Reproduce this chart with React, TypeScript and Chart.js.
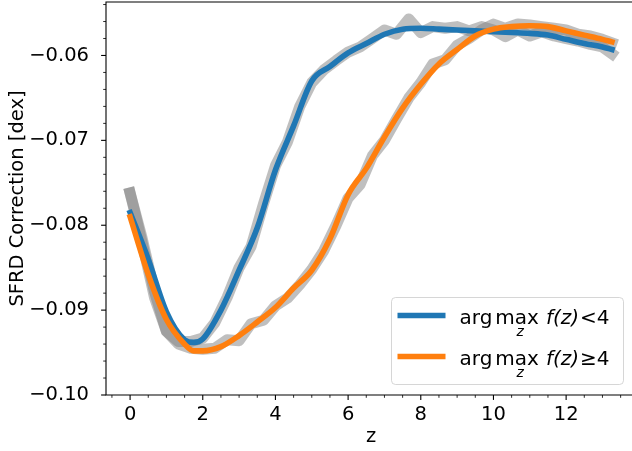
import { useEffect, useRef } from "react";
import { Chart, registerables } from "chart.js";

Chart.register(...registerables);

// Smoothed curves
const zSmooth = [0, 0.5, 1, 1.5, 1.75, 2, 2.5, 3, 3.5, 4, 4.5, 5, 5.5, 6, 6.5, 7, 7.5, 8, 8.5, 9, 9.5, 10, 10.5, 11, 11.5, 12, 12.5, 13, 13.26];
const blueSmooth = [-0.0785, -0.084, -0.0902, -0.0935, -0.0938, -0.0934, -0.09, -0.0853, -0.0803, -0.0735, -0.0683, -0.063, -0.0613, -0.0597, -0.0586, -0.0575, -0.0569, -0.0568, -0.0569, -0.057, -0.0571, -0.0572, -0.0573, -0.0574, -0.0576, -0.0581, -0.0586, -0.059, -0.0593];
const orangeSmooth = [-0.079, -0.0858, -0.0911, -0.094, -0.0948, -0.0948, -0.0943, -0.093, -0.0914, -0.0897, -0.0874, -0.0853, -0.0816, -0.0764, -0.0733, -0.0696, -0.0662, -0.0634, -0.061, -0.0593, -0.0577, -0.0569, -0.0566, -0.0565, -0.0566, -0.0571, -0.0576, -0.0581, -0.0584];

// Raw (noisy) curves drawn as thick grey lines
const zRaw = [0, 0.33, 0.67, 1, 1.33, 1.67, 2, 2.33, 2.67, 3, 3.33, 3.67, 4, 4.33, 4.67, 5, 5.33, 5.67, 6, 6.33, 6.67, 7, 7.33, 7.67, 8, 8.33, 8.67, 9, 9.33, 9.67, 10, 10.33, 10.67, 11, 11.33, 11.67, 12, 12.33, 12.67, 13, 13.26];
const blueRaw = [-0.0762, -0.0815, -0.0878, -0.0925, -0.0937, -0.0937, -0.0933, -0.0915, -0.0885, -0.085, -0.0825, -0.0775, -0.073, -0.0702, -0.066, -0.0632, -0.0617, -0.0606, -0.0596, -0.059, -0.058, -0.057, -0.0575, -0.0557, -0.0573, -0.0566, -0.0568, -0.0566, -0.0571, -0.0566, -0.057, -0.0578, -0.057, -0.0577, -0.0572, -0.0577, -0.058, -0.0583, -0.0587, -0.059, -0.0598];
const orangeRaw = [-0.0762, -0.082, -0.0885, -0.0925, -0.094, -0.0945, -0.0946, -0.0945, -0.0935, -0.0936, -0.0916, -0.0912, -0.0895, -0.0886, -0.087, -0.0852, -0.083, -0.08, -0.0768, -0.0752, -0.0718, -0.07, -0.0675, -0.065, -0.0632, -0.061, -0.0605, -0.0588, -0.058, -0.057, -0.0563, -0.0568, -0.0563, -0.0564, -0.0566, -0.0568, -0.057, -0.0575, -0.0577, -0.0581, -0.0585];

const xTickValues = [0, 2, 4, 6, 8, 10, 12];
const yTickValues = [-0.1, -0.09, -0.08, -0.07, -0.06];
const legendSuffixes = ["<4", "\u22654"];

const BLUE = "#1f77b4";
const ORANGE = "#ff7f0e";
const GREY = "rgba(128,128,128,0.5)";
const FAMILY = "'DejaVu Sans'";
const FS = 19.5;
const LFS = 20;

const fmtY = (v: number) => (v < 0 ? "\u2212" : "") + Math.abs(v).toFixed(2);

const mplPlugin = {
  id: "mplAxes",
  afterDraw(chart: any) {
    const { ctx, chartArea: a, scales } = chart;
    const xs = scales.x;
    const ys = scales.y;
    ctx.save();
    ctx.strokeStyle = "#000";
    ctx.lineCap = "butt";
    // x ticks
    for (let k = Math.ceil(xs.min * 2); k <= Math.floor(xs.max * 2); k++) {
      const v = k / 2;
      const major = xTickValues.includes(v);
      const px = xs.getPixelForValue(v);
      ctx.lineWidth = major ? 1.1 : 0.83;
      ctx.beginPath();
      ctx.moveTo(px, a.bottom);
      ctx.lineTo(px, a.bottom + (major ? 4.9 : 2.8));
      ctx.stroke();
    }
    // y ticks
    for (let k = Math.ceil(ys.min * 500 - 1e-6); k <= Math.floor(ys.max * 500 + 1e-6); k++) {
      const v = k / 500;
      const major = Math.abs(k % 5) === 0;
      const py = ys.getPixelForValue(v);
      ctx.lineWidth = major ? 1.1 : 0.83;
      ctx.beginPath();
      ctx.moveTo(a.left, py);
      ctx.lineTo(a.left - (major ? 4.9 : 2.8), py);
      ctx.stroke();
    }
    // spines
    ctx.lineWidth = 1.1;
    ctx.beginPath();
    ctx.rect(a.left, a.top, a.right - a.left, a.bottom - a.top);
    ctx.stroke();

    // legend
    const bx = a.right - 12.5;
    const by = a.bottom - 10.5;
    const bw = 232;
    const bh = 87;
    ctx.beginPath();
    ctx.roundRect(bx - bw, by - bh, bw, bh, 4);
    ctx.fillStyle = "rgba(255,255,255,0.8)";
    ctx.fill();
    ctx.lineWidth = 1;
    ctx.strokeStyle = "rgba(204,204,204,0.8)";
    ctx.stroke();

    const colors = [BLUE, ORANGE];
    const left = bx - bw;
    legendSuffixes.forEach((suf, i) => {
      const cy = by - bh + 18 + i * 41;
      ctx.strokeStyle = colors[i];
      ctx.lineWidth = 5.6;
      ctx.beginPath();
      ctx.moveTo(left + 6, cy);
      ctx.lineTo(left + 54, cy);
      ctx.stroke();

      const base = cy + 8;
      let tx = left + 68;
      ctx.fillStyle = "#000";
      ctx.textBaseline = "alphabetic";
      ctx.textAlign = "left";
      ctx.font = `${LFS}px ${FAMILY}`;
      ctx.fillText("arg", tx, base);
      tx += ctx.measureText("arg").width + 3;
      const wMax = ctx.measureText("max").width;
      ctx.fillText("max", tx, base);
      ctx.font = `italic ${LFS * 0.7}px ${FAMILY}`;
      ctx.textAlign = "center";
      ctx.fillText("z", tx + wMax / 2 + 3, base + 12.5);
      ctx.textAlign = "left";
      tx += wMax + 7;
      ctx.font = `italic ${LFS}px ${FAMILY}`;
      ctx.fillText("f(z)", tx, base);
      tx += ctx.measureText("f(z)").width + 1;
      ctx.font = `${LFS}px ${FAMILY}`;
      ctx.fillText(suf, tx, base);
    });
    ctx.restore();
  },
};

export default function App() {
  const ref = useRef<HTMLCanvasElement>(null);
  useEffect(() => {
    const canvas = ref.current!;
    const pts = (xs: number[], ys: number[]) => xs.map((x, i) => ({ x, y: ys[i] }));
    const chart = new Chart(canvas, {
      type: "line",
      data: {
        datasets: [
          {
            label: "orange",
            data: pts(zSmooth, orangeSmooth),
            borderColor: ORANGE,
            borderWidth: 5.6,
            pointRadius: 0,
            cubicInterpolationMode: "monotone",
            borderCapStyle: "square",
            borderJoinStyle: "round",
            fill: false,
            order: 0,
          },
          {
            label: "blue",
            data: pts(zSmooth, blueSmooth),
            borderColor: BLUE,
            borderWidth: 5.6,
            pointRadius: 0,
            cubicInterpolationMode: "monotone",
            borderCapStyle: "square",
            borderJoinStyle: "round",
            fill: false,
            order: 1,
          },
          {
            label: "orange raw",
            data: pts(zRaw, orangeRaw),
            borderColor: GREY,
            borderWidth: 11,
            pointRadius: 0,
            tension: 0,
            borderCapStyle: "square",
            borderJoinStyle: "round",
            fill: false,
            order: 2,
          },
          {
            label: "blue raw",
            data: pts(zRaw, blueRaw),
            borderColor: GREY,
            borderWidth: 11,
            pointRadius: 0,
            tension: 0,
            borderCapStyle: "square",
            borderJoinStyle: "round",
            fill: false,
            order: 3,
          },
        ] as any,
      },
      options: {
        animation: false,
        responsive: false,
        devicePixelRatio: 1,
        layout: { padding: { top: 2, right: 4, left: 0, bottom: 0 } },
        plugins: { legend: { display: false }, tooltip: { enabled: false } },
        scales: {
          x: {
            type: "linear",
            min: -0.663,
            max: 13.923,
            grid: { display: false },
            border: { display: false },
            afterBuildTicks: (s: any) => {
              s.ticks = xTickValues.map((v) => ({ value: v }));
            },
            afterFit: (s: any) => {
              s.height = 56;
              s.paddingLeft = 0;
              s.paddingRight = 0;
            },
            ticks: {
              autoSkip: false,
              maxRotation: 0,
              padding: 0,
              color: "#000",
              font: { family: FAMILY, size: FS },
              callback: (v: any) => String(v),
            },
            title: {
              display: true,
              text: "z",
              color: "#000",
              font: { family: FAMILY, size: FS },
              padding: { top: 0, bottom: 2 },
            },
          },
          y: {
            type: "linear",
            min: -0.1,
            max: -0.0537,
            grid: { display: false },
            border: { display: false },
            afterBuildTicks: (s: any) => {
              s.ticks = yTickValues.map((v) => ({ value: v }));
            },
            afterFit: (s: any) => {
              s.width = 106;
              s.paddingTop = 0;
              s.paddingBottom = 0;
            },
            ticks: {
              autoSkip: false,
              padding: 9,
              color: "#000",
              font: { family: FAMILY, size: FS },
              callback: (v: any) => fmtY(Number(v)),
            },
            title: {
              display: true,
              text: "SFRD Correction [dex]",
              color: "#000",
              font: { family: FAMILY, size: FS },
              padding: { top: 6.5, bottom: 0 },
            },
          },
        },
      } as any,
      plugins: [mplPlugin],
    });
    return () => chart.destroy();
  }, []);
  return (
    <div style={{ position: "fixed", left: 0, top: 0, width: 632, height: 451, overflow: "hidden", background: "#fff" }}>
      <canvas ref={ref} width={640} height={451} style={{ display: "block", width: 640, height: 451 }} />
    </div>
  );
}
